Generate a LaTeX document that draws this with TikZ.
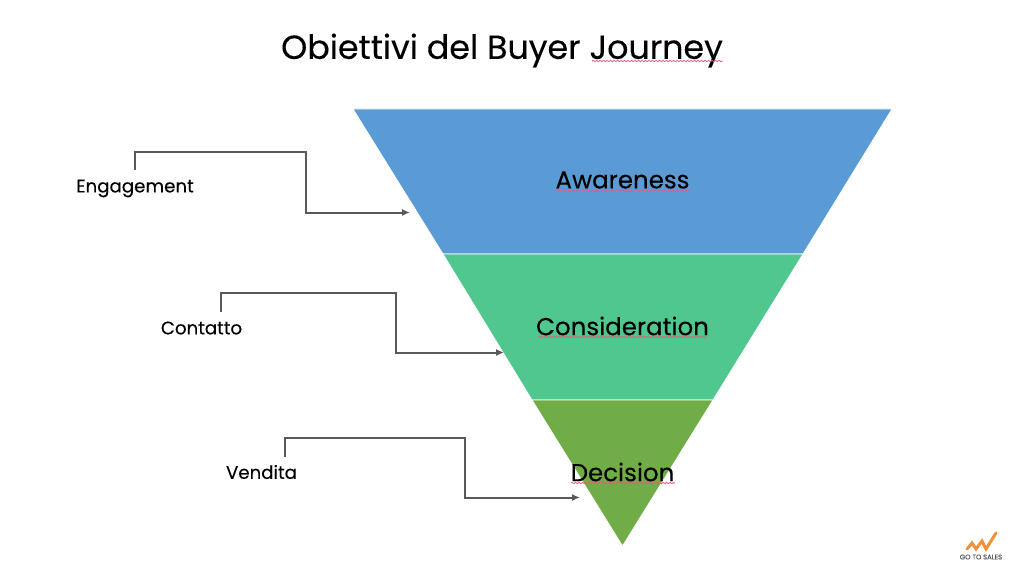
\documentclass[tikz,border=0pt]{standalone}
\usepackage{fontspec}
\setmainfont{Poppins}[FakeBold=0.25]
\usetikzlibrary{arrows.meta,decorations.pathmorphing}
\definecolor{fblue}{HTML}{5B9BD5}
\definecolor{fgreen}{HTML}{50C78F}
\definecolor{folive}{HTML}{70AD47}
\definecolor{conn}{HTML}{595959}
\definecolor{squig}{HTML}{E0607E}
\definecolor{logoor}{HTML}{F0923B}
\tikzset{
  x=1pt,y=-1pt,
  band/.style={draw=white,line width=0.8pt,line join=miter},
  stage/.style={font=\fontsize{24.5}{28}\selectfont,text=black,inner sep=0pt},
  side/.style={font=\fontsize{18.2}{21}\selectfont,text=black,inner sep=0pt},
  link/.style={draw=conn,line width=2pt,-{Latex[length=8pt,width=7pt]}},
  wavy/.style={draw=squig,line width=0.8pt,decorate,decoration={snake,amplitude=0.7pt,segment length=3.5pt}},
  stroke/.style={draw=logoor,line width=3pt,line cap=round},
}
\begin{document}
\begin{tikzpicture}
\useasboundingbox (0,0) rectangle (1024,567);
\fill[white] (0,0) rectangle (1024,567);
\fill[fblue,band] (353,109) -- (892,109) -- (803,254) -- (443,254) -- cycle;
\fill[fgreen,band] (443,254) -- (803,254) -- (713,400) -- (532,400) -- cycle;
\fill[folive,band] (532,400) -- (713,400) -- (622.5,546) -- cycle;

\node[inner sep=0pt,font=\fontsize{33.3}{38}\selectfont] (title) at (502,50.5) {Obiettivi del Buyer Journey};
\node[stage] (aw) at (622.5,180) {Awareness};
\node[stage] (co) at (622.5,326) {Consideration};
\node[stage] (de) at (622.5,472) {Decision};
\node[side] (en) at (135,188.5) {Engagement};
\node[side] (ct) at (201.5,328) {Contatto};
\node[side] (ve) at (261.5,472) {Vendita};

\coordinate (t1) at (410,212.5);
\coordinate (t2) at (504,352.5);
\coordinate (t3) at (580,497.5);
\draw[link] (135,170) |- (306,151.5) |- (t1);
\draw[link] (221,312) |- (396,293) |- (t2);
\draw[link] (285,457) |- (465,437.5) |- (t3);

\draw[wavy] (592,61) -- (723,61);
\draw[wavy] (556,191) -- (690,191);
\draw[wavy] (538,337) -- (707,337);
\draw[wavy] (571,483) -- (675,483);

\draw[stroke] (967,549) -- (972,543) -- (976,549) -- (982,541) -- (986,549) -- (996,533);
\node[inner sep=0pt,font=\fontsize{6.8}{8}\selectfont,text=black!65] (logo) at (981,557) {GO TO SALES};
\end{tikzpicture}
\end{document}
